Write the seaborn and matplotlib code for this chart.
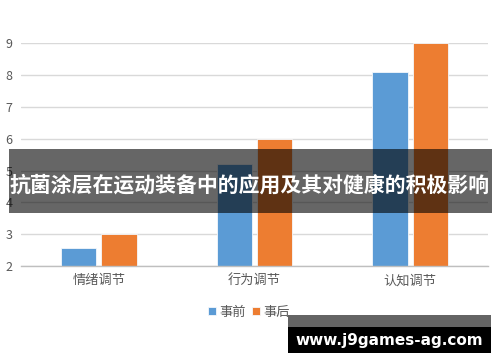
import matplotlib
matplotlib.use("Agg")
import matplotlib.pyplot as plt
from matplotlib.patches import Rectangle
import seaborn as sns
import pandas as pd

categories = ["情绪调节", "行为调节", "认知调节"]
series_names = ["事前", "事后"]
before_values = [2.57, 5.2, 8.1]
after_values = [3.0, 6.0, 9.0]
y_ticks = [2, 3, 4, 5, 6, 7, 8, 9]
title_text = "抗菌涂层在运动装备中的应用及其对健康的积极影响"
watermark_text = "www.j9games-ag.com"

df = pd.DataFrame({
    "cat": categories * 2,
    "series": [series_names[0]] * 3 + [series_names[1]] * 3,
    "value": before_values + after_values,
})

sns.set_theme(style="white")
plt.rcParams['font.family'] = ['Noto Sans CJK SC', 'DejaVu Sans']

fig = plt.figure(figsize=(5, 3.62), dpi=100)
ax = fig.add_axes([0.042, 0.265, 0.934, 0.616])

sns.barplot(data=df, x="cat", y="value", hue="series", ax=ax,
            palette=["#5B9BD5", "#ED7D31"], saturation=1, width=0.52, gap=0.13,
            edgecolor="#f4f8fc", linewidth=0.6, legend=True)

ax.set_ylim(2, 9)
ax.set_xlim(-0.5, 2.5)
ax.set_yticks(y_ticks)
ax.yaxis.grid(True, color="#d9d9d9", linewidth=1)
ax.set_axisbelow(True)
for s in ["top", "right", "left"]:
    ax.spines[s].set_visible(False)
ax.spines["bottom"].set_color("#bfbfbf")
ax.spines["bottom"].set_linewidth(1)
ax.set_xlabel("")
ax.set_ylabel("")
ax.tick_params(axis="both", length=0, labelsize=9.5, colors="#595959")
ax.tick_params(axis="y", pad=6, labelsize=9)
ax.tick_params(axis="x", pad=6)

leg = ax.legend(loc="center", bbox_to_anchor=(249 / 500, 1 - 312 / 362),
                bbox_transform=fig.transFigure, ncol=2, frameon=False,
                fontsize=9.5, handlelength=0.6, handleheight=0.6,
                handletextpad=0.3, columnspacing=0.4)
for t in leg.get_texts():
    t.set_color("#595959")

# overlay banner
fig.patches.append(Rectangle((9 / 500, 1 - 213 / 362), 483 / 500, 64 / 362,
                             transform=fig.transFigure, facecolor="black",
                             alpha=0.6, edgecolor="none", zorder=10))
fig.text(250 / 500, 1 - 185 / 362, title_text, color="white", fontsize=15,
         fontweight="bold", ha="center", va="center", zorder=11)

# watermark
fig.patches.append(Rectangle((288 / 500, 1 - 327 / 362), 203 / 500, 12 / 362,
                             transform=fig.transFigure, facecolor="#646464",
                             edgecolor="none", zorder=10))
fig.patches.append(Rectangle((288 / 500, 1 - 353 / 362), 203 / 500, 26 / 362,
                             transform=fig.transFigure, facecolor="black",
                             edgecolor="none", zorder=10))
fig.text(389 / 500, 1 - 340 / 362, watermark_text, color="white", fontsize=11,
         fontweight="bold", ha="center", va="center", zorder=11,
         family=["DejaVu Sans"])

fig.savefig("out.png", dpi=100)
